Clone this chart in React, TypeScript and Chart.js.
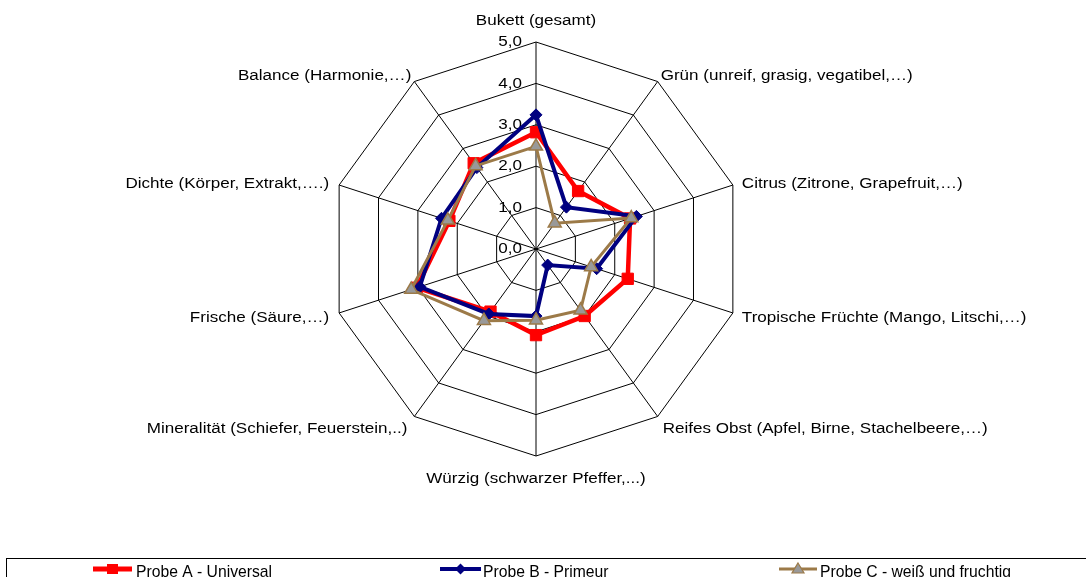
import React, { useEffect, useRef } from "react";
import { Chart, registerables } from "chart.js";

Chart.register(...registerables);

// ---- data ----
const categories = [
  "Bukett (gesamt)",
  "Grün (unreif, grasig, vegatibel,…)",
  "Citrus (Zitrone, Grapefruit,…)",
  "Tropische Früchte (Mango, Litschi,…)",
  "Reifes Obst (Apfel, Birne, Stachelbeere,…)",
  "Würzig (schwarzer Pfeffer,...)",
  "Mineralität (Schiefer, Feuerstein,..)",
  "Frische (Säure,…)",
  "Dichte (Körper, Extrakt,….)",
  "Balance (Harmonie,…)",
];
const probeA = [2.82, 1.73, 2.39, 2.33, 2.0, 2.08, 1.87, 3.03, 2.2, 2.56];
const probeB = [3.24, 1.25, 2.55, 1.54, 0.48, 1.62, 1.94, 2.95, 2.4, 2.43];
const probeC = [2.48, 0.77, 2.42, 1.4, 1.83, 1.72, 2.14, 3.17, 2.24, 2.48];
const seriesNames = ["Probe A - Universal", "Probe B - Primeur", "Probe C - weiß und fruchtig"];
const tickValues = [0, 1, 2, 3, 4, 5];
const tickLabels = ["0,0", "1,0", "2,0", "3,0", "4,0", "5,0"];

// ---- style ----
const RED = "#FF0000";
const NAVY = "#000080";
const BROWN = "#9C7A48";
const GRAY = "#999999";
const FONT = "Liberation Sans, Arial, sans-serif";
const CX = 536;
const CY = 249;
const R = 207;
const TEXT_SX = 1.1;

// label placement relative to outer vertex: [dx, dy, align]
const labelPlace: [number, number, CanvasTextAlign][] = [
  [0, -17, "center"],
  [3, -1.5, "left"],
  [9, 3, "left"],
  [9, 9.5, "left"],
  [5, 17, "left"],
  [0, 27, "center"],
  [-7, 17, "right"],
  [-10, 9.5, "right"],
  [-10, 3, "right"],
  [-3, -1.5, "right"],
];

function stretchedText(ctx: CanvasRenderingContext2D, text: string, x: number, y: number, align: CanvasTextAlign) {
  ctx.save();
  ctx.translate(x, y);
  ctx.scale(TEXT_SX, 1);
  ctx.textAlign = align;
  ctx.textBaseline = "alphabetic";
  ctx.fillText(text, 0, 0);
  ctx.restore();
}

const fixScale = (chart: any) => {
  const s = chart.scales.r;
  if (s) {
    s.xCenter = CX;
    s.yCenter = CY;
    s.drawingArea = R;
  }
};

const customPlugin = {
  id: "custom",
  afterLayout(chart: any) {
    fixScale(chart);
  },
  beforeDatasetsDraw(chart: any) {
    const ctx = chart.ctx as CanvasRenderingContext2D;
    const s = chart.scales.r;
    ctx.save();
    ctx.fillStyle = "#000";
    ctx.font = `15.5px ${FONT}`;
    tickValues.forEach((v, i) => {
      const p = s.getPointPosition(0, s.getDistanceFromCenterForValue(v));
      ctx.save();
      ctx.translate(p.x - 14, p.y);
      ctx.scale(TEXT_SX, 1);
      ctx.textAlign = "right";
      ctx.textBaseline = "middle";
      ctx.fillText(tickLabels[i], 0, 0);
      ctx.restore();
    });
    ctx.restore();
  },
  afterDraw(chart: any) {
    const ctx = chart.ctx as CanvasRenderingContext2D;
    const s = chart.scales.r;
    ctx.save();
    ctx.fillStyle = "#000";
    ctx.font = `15.5px ${FONT}`;
    categories.forEach((c, i) => {
      const p = s.getPointPosition(i, s.getDistanceFromCenterForValue(5));
      const [dx, dy, align] = labelPlace[i];
      stretchedText(ctx, c, p.x + dx, p.y + dy, align);
    });

    // legend box
    ctx.strokeStyle = "#000";
    ctx.lineWidth = 1;
    ctx.strokeRect(6.5, 558.5, 1090, 40);

    const ly = 569;
    const items = [
      { x0: 93, x1: 132, tx: 136, color: RED, lw: 5, marker: "rect" },
      { x0: 440, x1: 481, tx: 483, color: NAVY, lw: 4, marker: "diamond" },
      { x0: 779, x1: 817, tx: 820, color: BROWN, lw: 3, marker: "tri" },
    ];
    items.forEach((it, i) => {
      ctx.strokeStyle = it.color;
      ctx.lineWidth = it.lw;
      ctx.beginPath();
      ctx.moveTo(it.x0, ly);
      ctx.lineTo(it.x1, ly);
      ctx.stroke();
      const mx = (it.x0 + it.x1) / 2;
      ctx.fillStyle = it.color;
      if (it.marker === "rect") {
        ctx.fillRect(mx - 5.5, ly - 5, 11, 10);
      } else if (it.marker === "diamond") {
        ctx.beginPath();
        ctx.moveTo(mx, ly - 5.5);
        ctx.lineTo(mx + 5.5, ly);
        ctx.lineTo(mx, ly + 5.5);
        ctx.lineTo(mx - 5.5, ly);
        ctx.closePath();
        ctx.fill();
      } else {
        ctx.beginPath();
        ctx.moveTo(mx, ly - 6);
        ctx.lineTo(mx + 6, ly + 4);
        ctx.lineTo(mx - 6, ly + 4);
        ctx.closePath();
        ctx.fillStyle = GRAY;
        ctx.fill();
        ctx.strokeStyle = it.color;
        ctx.lineWidth = 1.2;
        ctx.stroke();
      }
      ctx.fillStyle = "#000";
      ctx.font = `15.7px ${FONT}`;
      ctx.textAlign = "left";
      ctx.textBaseline = "alphabetic";
      ctx.fillText(seriesNames[i], it.tx, 576.5);
    });
    ctx.restore();
  },
};

export default function App() {
  const ref = useRef<HTMLCanvasElement | null>(null);
  useEffect(() => {
    if (!ref.current) return;
    const chart = new Chart(ref.current, {
      type: "radar",
      data: {
        labels: categories,
        datasets: [
          {
            label: seriesNames[0],
            data: probeA,
            borderColor: RED,
            backgroundColor: RED,
            borderWidth: 4.5,
            pointStyle: "rect",
            pointRadius: 8,
            pointBackgroundColor: RED,
            pointBorderColor: RED,
            pointBorderWidth: 1,
            fill: false,
            order: 3,
          },
          {
            label: seriesNames[1],
            data: probeB,
            borderColor: NAVY,
            backgroundColor: NAVY,
            borderWidth: 4,
            pointStyle: "rectRot",
            pointRadius: 6,
            pointBackgroundColor: NAVY,
            pointBorderColor: NAVY,
            pointBorderWidth: 1,
            fill: false,
            order: 2,
          },
          {
            label: seriesNames[2],
            data: probeC,
            borderColor: BROWN,
            backgroundColor: GRAY,
            borderWidth: 3,
            pointStyle: "triangle",
            pointRadius: 7.5,
            pointBackgroundColor: GRAY,
            pointBorderColor: BROWN,
            pointBorderWidth: 1.5,
            fill: false,
            order: 1,
          },
        ] as any,
      },
      options: {
        responsive: false,
        animation: false,
        devicePixelRatio: 1,
        elements: { line: { tension: 0 } },
        plugins: {
          legend: { display: false },
          tooltip: { enabled: false },
        },
        scales: {
          r: {
            min: 0,
            max: 5,
            ticks: { stepSize: 1, display: false },
            grid: { circular: false, color: "#000", lineWidth: 1 },
            angleLines: { display: true, color: "#000", lineWidth: 1 },
            pointLabels: { display: false },
            afterUpdate: (scale: any) => {
              scale.xCenter = CX;
              scale.yCenter = CY;
              scale.drawingArea = R;
            },
          } as any,
        },
      },
      plugins: [customPlugin],
    });
    return () => chart.destroy();
  }, []);
  return (
    <div style={{ position: "absolute", left: 0, top: 0, width: 1086, height: 577, background: "#fff" }}>
      <canvas ref={ref} width={1086} height={577} style={{ display: "block" }} />
    </div>
  );
}
